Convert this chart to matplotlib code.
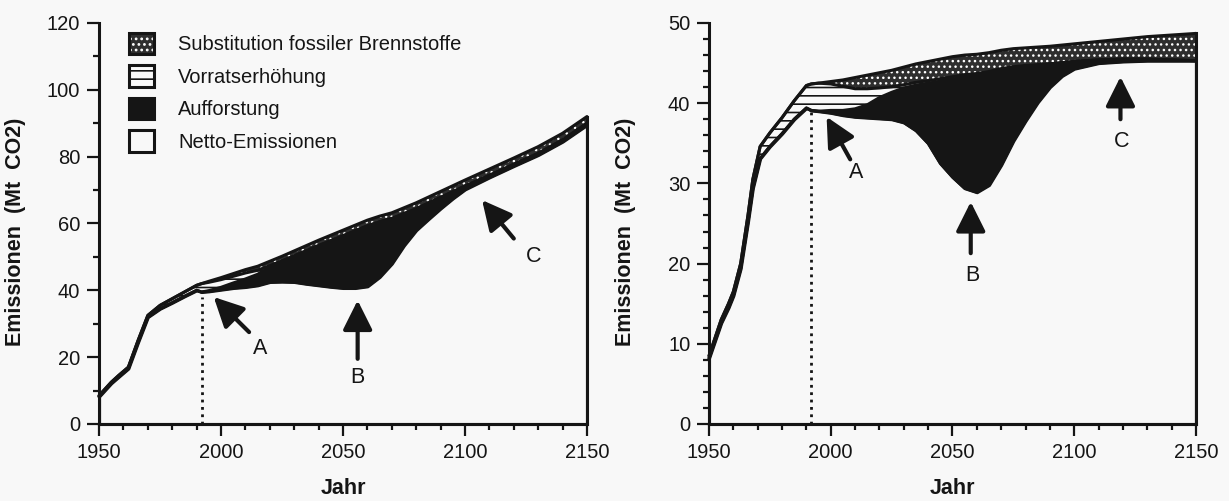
import numpy as np
import matplotlib
matplotlib.use("Agg")
from matplotlib import pyplot as plt
from matplotlib.patches import Patch
from matplotlib.ticker import MultipleLocator

plt.rcParams["font.family"] = ["Liberation Sans", "DejaVu Sans"]
plt.rcParams["hatch.linewidth"] = 1.2

ink = "#151515"
paper = "#f8f8f8"
stipple = "#2e2e2e"
lw = 2.2

# linke Grafik: Emissionen (Mt CO2) und Schichten darunter
years_l = [1950, 1955, 1958, 1962, 1966, 1970, 1975, 1980, 1985, 1990, 1992, 1995,
           2000, 2005, 2010, 2015, 2020, 2025, 2030, 2035, 2040, 2045, 2050, 2055,
           2060, 2065, 2070, 2075, 2080, 2085, 2090, 2095, 2100, 2110, 2120, 2130,
           2140, 2150]
total_l = [8.5, 12.5, 14.5, 17.0, 25.0, 32.5, 35.5, 37.5, 39.5, 41.5, 42.0, 42.7,
           43.8, 45.0, 46.2, 47.2, 48.7, 50.2, 51.8, 53.4, 55.0, 56.5, 58.0, 59.5,
           61.0, 62.2, 63.2, 64.7, 66.2, 67.9, 69.6, 71.3, 73.0, 76.3, 79.6, 83.0,
           87.0, 92.0]
subst_l = [0, 0, 0, 0, 0, 0, 0, 0, 0, 0, 0, 0.3,
           0.6, 0.8, 1.0, 1.2, 1.3, 1.4, 1.5, 1.55, 1.6, 1.65, 1.7, 1.7,
           1.7, 1.7, 1.7, 1.75, 1.8, 1.8, 1.8, 1.8, 1.8, 1.9, 1.9, 2.0,
           2.0, 2.0]
vorrat_l = [0.3, 0.3, 0.4, 0.4, 0.5, 0.5, 1.0, 1.2, 1.3, 1.5, 2.5, 2.5,
            2.3, 2.0, 1.8, 1.2, 0.4, 0, 0, 0, 0, 0, 0, 0,
            0, 0, 0, 0, 0, 0, 0, 0, 0, 0, 0, 0,
            0, 0]
auff_l = [0, 0, 0, 0, 0, 0, 0, 0, 0, 0, 0, 0.2,
          0.7, 1.5, 2.4, 3.3, 4.5, 6.2, 7.8, 9.9, 11.9, 13.8, 15.6, 17.1,
          18.1, 16.5, 13.5, 9.5, 6.4, 4.8, 3.3, 2.0, 1.0, 0.6, 0.5, 0.5,
          0.5, 0.5]

# rechte Grafik
years_r = [1950, 1955, 1958, 1960, 1963, 1966, 1968, 1971, 1975, 1980, 1985, 1990,
           1992, 1995, 2000, 2005, 2010, 2015, 2020, 2025, 2030, 2035, 2040, 2045,
           2050, 2055, 2060, 2065, 2070, 2075, 2080, 2085, 2090, 2095, 2100, 2110,
           2120, 2130, 2140, 2150]
total_r = [8.5, 13.0, 15.0, 16.5, 20.0, 26.0, 30.5, 34.6, 36.3, 38.2, 40.3, 42.2,
           42.4, 42.5, 42.7, 42.9, 43.2, 43.5, 43.8, 44.1, 44.5, 44.9, 45.2, 45.5,
           45.8, 46.0, 46.1, 46.3, 46.6, 46.8, 46.9, 47.0, 47.1, 47.25, 47.4, 47.7,
           48.0, 48.3, 48.5, 48.7]
subst_r = [0, 0, 0, 0, 0, 0, 0, 0, 0, 0, 0, 0,
           0, 0, 0.3, 0.8, 1.4, 1.7, 1.9, 2.05, 2.2, 2.3, 2.4, 2.45,
           2.5, 2.45, 2.4, 2.35, 2.3, 2.25, 2.2, 2.2, 2.2, 2.2, 2.2, 2.3,
           2.5, 2.8, 3.1, 3.4]
vorrat_r = [0.3, 0.4, 0.5, 0.5, 0.6, 0.8, 1.1, 1.5, 1.7, 2.0, 2.3, 2.8,
            3.3, 3.5, 3.3, 3.0, 2.5, 2.0, 1.2, 0.7, 0.4, 0.35, 0.3, 0.3,
            0.3, 0.25, 0.2, 0.2, 0.2, 0.15, 0.1, 0.05, 0, 0, 0, 0,
            0, 0, 0, 0]
auff_r = [0, 0, 0, 0, 0, 0, 0, 0, 0, 0, 0, 0,
          0, 0, 0.3, 0.6, 1.0, 1.6, 2.6, 3.35, 4.3, 5.65, 7.5, 10.25,
          12.2, 13.9, 14.6, 13.95, 11.8, 9.1, 6.8, 4.65, 2.9, 1.65, 0.9, 0.4,
          0.3, 0.2, 0.1, 0]

year_now = 1992
dot_top_l = 38.0
dot_top_r = 39.3

legend_labels = ["Substitution fossiler Brennstoffe", "Vorratserhöhung",
                 "Aufforstung", "Netto-Emissionen"]


def panel(ax, years, total, subst, vorrat, auff, ymax, ymajor, yminor, dot_top):
    years = np.array(years)
    total = np.array(total)
    net = total - np.array(subst) - np.array(vorrat) - np.array(auff)
    top_auff = net + np.array(auff)
    low_sub = total - np.array(subst)

    ax.fill_between(years, 0, net, facecolor=paper, edgecolor=ink, lw=lw,
                    clip_on=False, zorder=2)
    ax.fill_between(years, net, top_auff, facecolor=ink, lw=0, zorder=2)
    ax.fill_between(years, top_auff, low_sub, facecolor=paper, edgecolor=ink,
                    hatch="--", lw=0, zorder=2)
    with plt.rc_context({"hatch.color": "white", "hatch.linewidth": 1.0}):
        ax.fill_between(years, low_sub, total, facecolor=stipple, hatch="...",
                        lw=0, zorder=2)
    for curve in (total, low_sub, top_auff, net):
        ax.plot(years, curve, color=ink, lw=lw, solid_joinstyle="round",
                solid_capstyle="round", clip_on=False, zorder=3)
    ax.plot([years[-1], years[-1]], [0, total[-1]], color=ink, lw=lw,
            clip_on=False, zorder=3)
    ax.plot([year_now, year_now], [0, dot_top], color=ink, lw=2, ls=":",
            zorder=3)

    ax.set_xlim(1950, 2150)
    ax.set_ylim(0, ymax)
    ax.xaxis.set_major_locator(MultipleLocator(50))
    ax.xaxis.set_minor_locator(MultipleLocator(10))
    ax.yaxis.set_major_locator(MultipleLocator(ymajor))
    ax.yaxis.set_minor_locator(MultipleLocator(yminor))
    for s in ("top", "right"):
        ax.spines[s].set_visible(False)
    for s in ("left", "bottom"):
        ax.spines[s].set_linewidth(lw)
        ax.spines[s].set_color(ink)
    ax.tick_params(which="major", direction="out", length=8.5, width=1.6,
                   color=ink, labelsize=14.5, labelcolor=ink)
    ax.tick_params(which="minor", direction="out", length=4.5, width=1.6,
                   color=ink)
    ax.tick_params(axis="x", which="major", pad=5)
    ax.tick_params(axis="y", which="major", pad=5)
    ax.set_facecolor(paper)

    ax.set_xlabel("Jahr", fontsize=15.5, fontweight="bold", color=ink)
    ax.set_ylabel("Emissionen  (Mt  CO2)", fontsize=15.5, fontweight="bold",
                  color=ink)
    ax.xaxis.set_label_coords(0.5, -0.135)
    ax.yaxis.set_label_coords(-0.15, 0.48)


def arrow(ax, head, tail, label, label_xy):
    ax.annotate("", xy=head, xytext=tail,
                arrowprops=dict(arrowstyle="-|>,head_length=0.9,head_width=0.45",
                                lw=3, color=ink, mutation_scale=20,
                                shrinkA=0, shrinkB=0), zorder=4)
    ax.text(label_xy[0], label_xy[1], label, fontsize=15.5, color=ink,
            ha="center", va="center")


fig = plt.figure(figsize=(12.29, 5.01), dpi=100, facecolor=paper)
ax1 = fig.add_axes([0.0806, 0.1537, 0.3970, 0.8004])
ax2 = fig.add_axes([0.5769, 0.1537, 0.3962, 0.8004])

panel(ax1, years_l, total_l, subst_l, vorrat_l, auff_l, 120, 20, 10, dot_top_l)
panel(ax2, years_r, total_r, subst_r, vorrat_r, auff_r, 50, 10, 2, dot_top_r)

arrow(ax1, (1997, 38), (2011.5, 27.5), "A", (2016, 22.5))
arrow(ax1, (2056, 37), (2056, 19.5), "B", (2056, 14))
arrow(ax1, (2107, 67), (2120, 55.5), "C", (2128, 50))
arrow(ax2, (1998.3, 38.3), (2008, 33.0), "A", (2010.5, 31.3))
arrow(ax2, (2057.5, 27.7), (2057.5, 21.3), "B", (2058, 18.5))
arrow(ax2, (2119, 43.3), (2119, 38.0), "C", (2119.5, 35.2))

with plt.rc_context({"hatch.color": "white", "hatch.linewidth": 1.0}):
    h_sub = Patch(facecolor=stipple, hatch="...", lw=0)
h_sub_edge = Patch(facecolor="none", edgecolor=ink, lw=lw)
h_vor = Patch(facecolor=paper, edgecolor=ink, hatch="--", lw=lw)
h_auf = Patch(facecolor=ink, edgecolor=ink, lw=lw)
h_net = Patch(facecolor=paper, edgecolor=ink, lw=lw)
ax1.legend([(h_sub, h_sub_edge), h_vor, h_auf, h_net], legend_labels,
           loc="upper left", bbox_to_anchor=(129 / 1229, 1 - 33 / 501),
           bbox_transform=fig.transFigure, frameon=False, fontsize=14.5,
           handlelength=1.25, handleheight=1.25, handletextpad=1.2,
           labelspacing=0.55, borderpad=0, borderaxespad=0,
           labelcolor=ink)

fig.savefig("out.png", dpi=100, facecolor=paper)
